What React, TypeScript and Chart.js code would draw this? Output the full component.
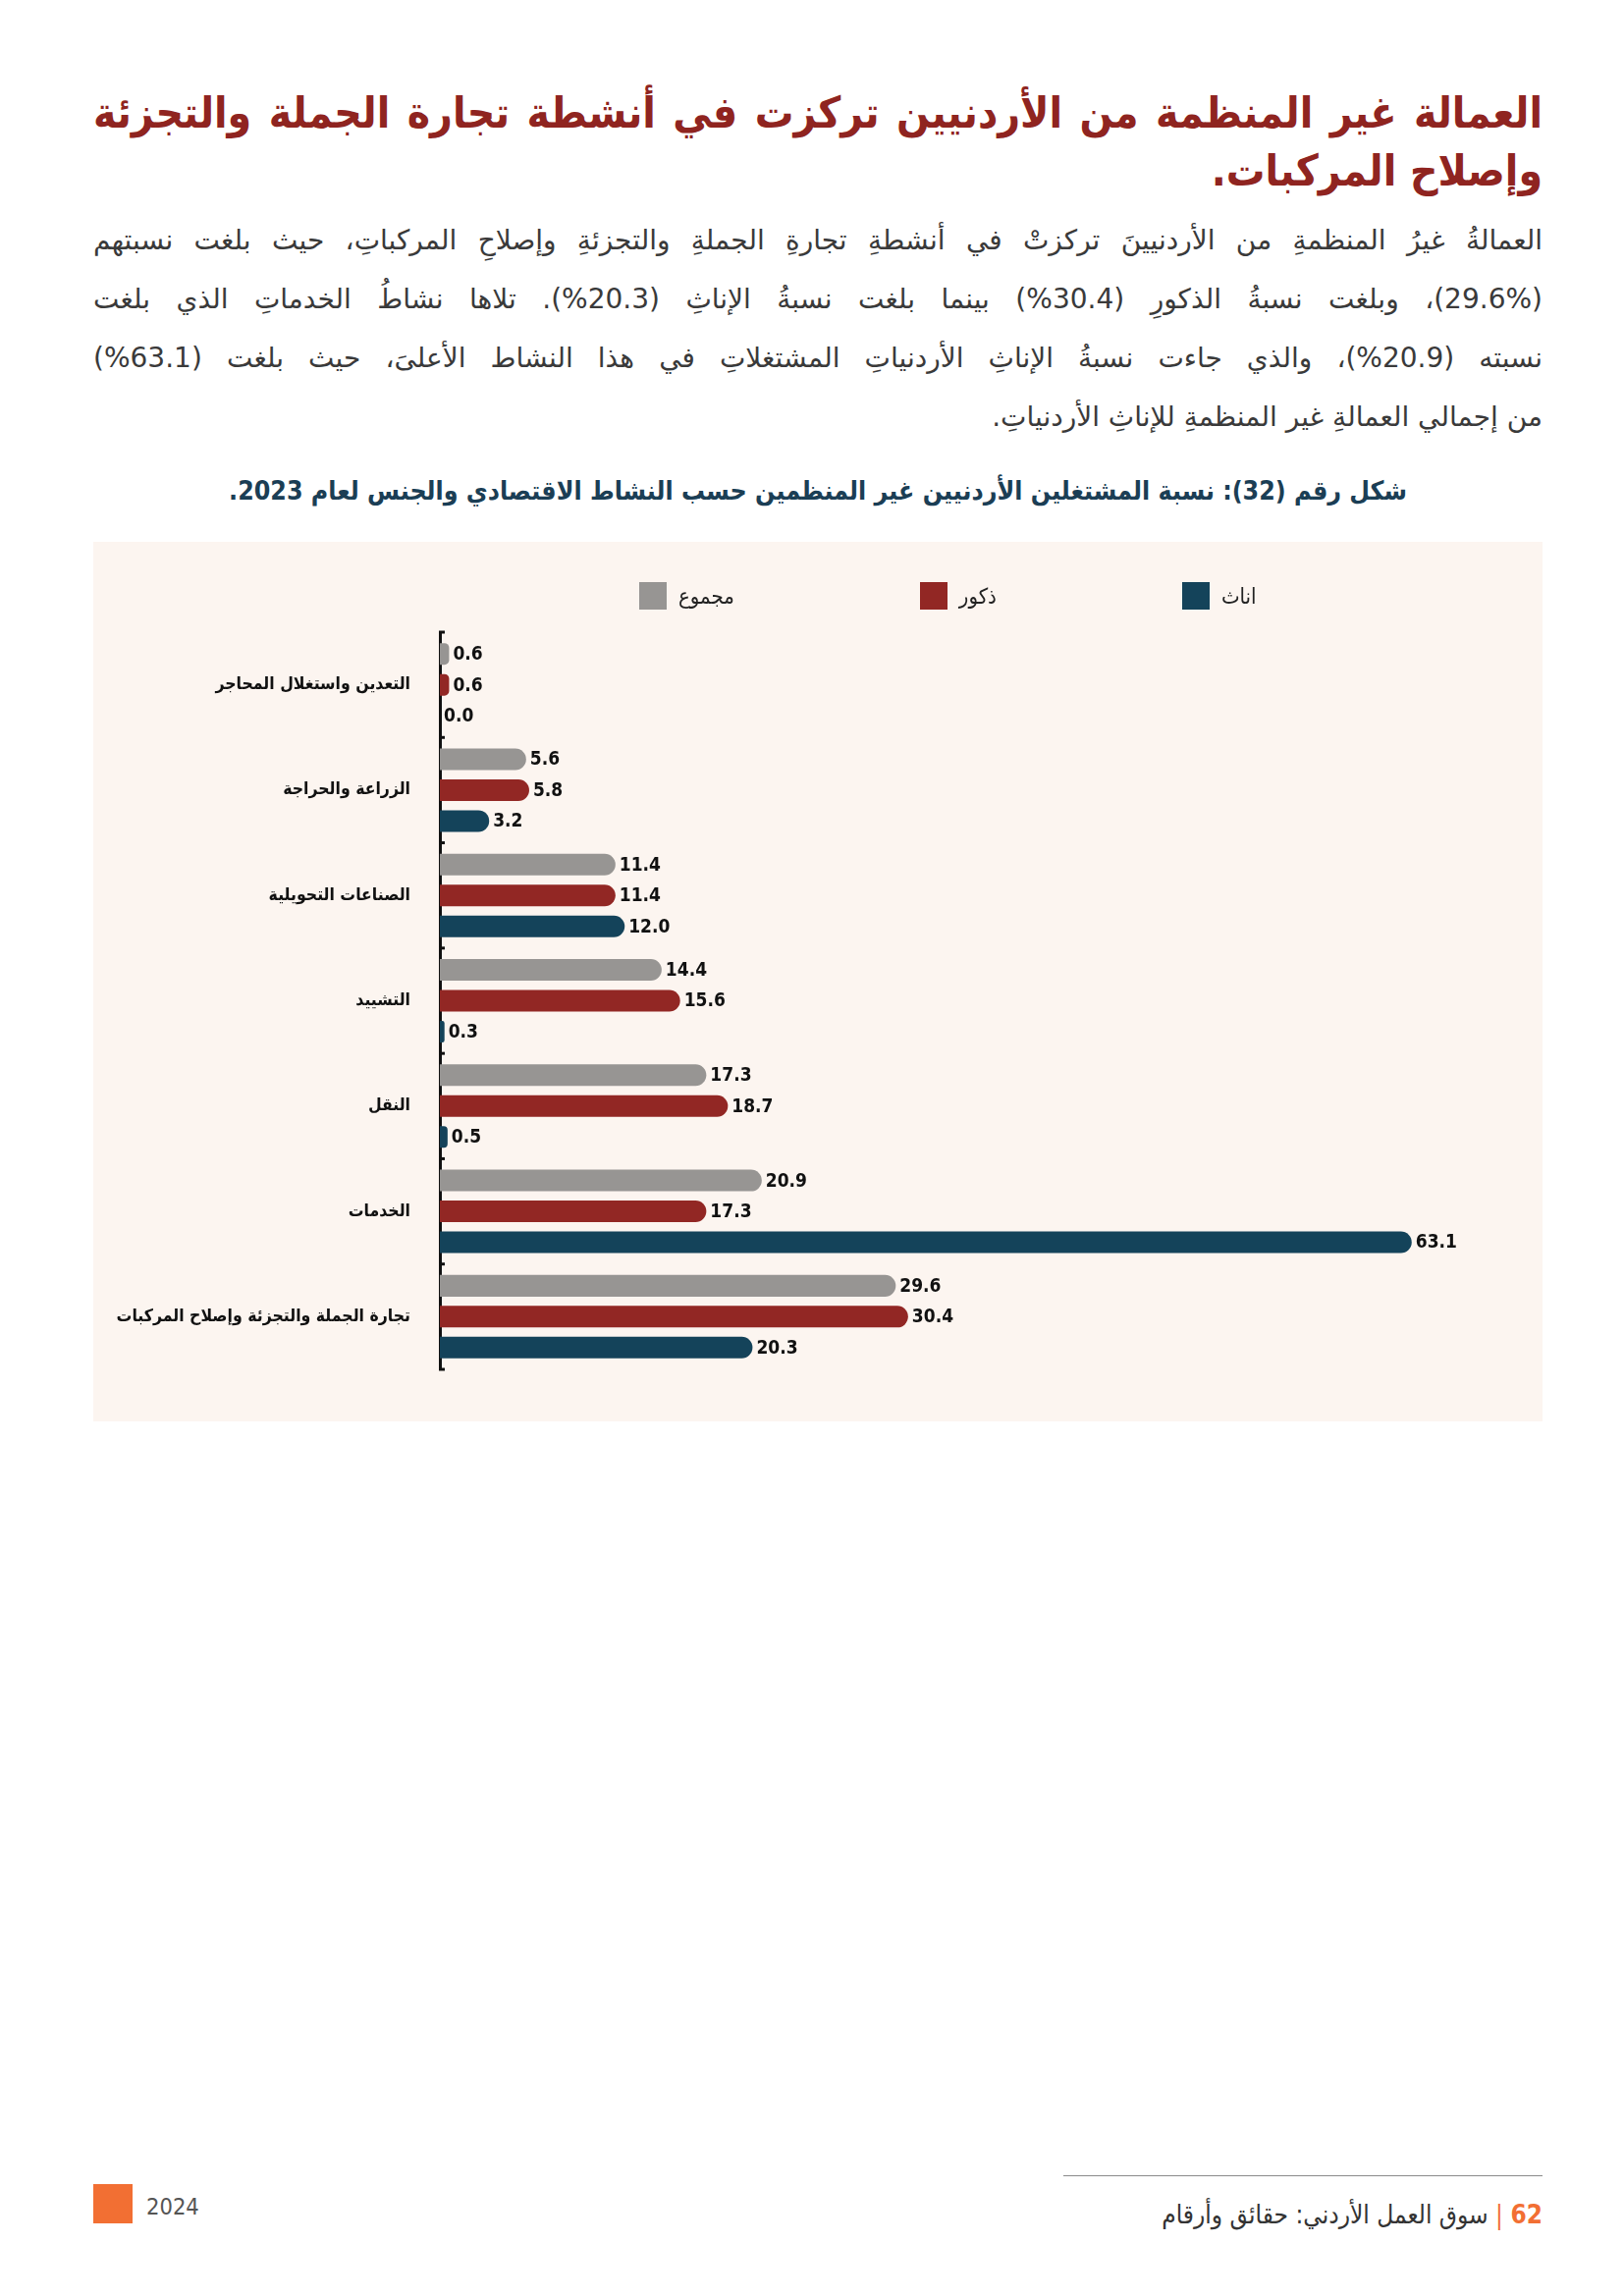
import React, { useEffect, useRef } from "react";
import { Chart, registerables } from "chart.js";

Chart.register(...registerables);

const categories = [
  "التعدين واستغلال المحاجر",
  "الزراعة والحراجة",
  "الصناعات التحويلية",
  "التشييد",
  "النقل",
  "الخدمات",
  "تجارة الجملة والتجزئة وإصلاح المركبات",
];
const seriesNames = ["مجموع", "ذكور", "اناث"];
const totalValues = [0.6, 5.6, 11.4, 14.4, 17.3, 20.9, 29.6];
const maleValues = [0.6, 5.8, 11.4, 15.6, 18.7, 17.3, 30.4];
const femaleValues = [0.0, 3.2, 12.0, 0.3, 0.5, 63.1, 20.3];
const seriesColors = ["#979593", "#922724", "#14435a"];

const titleLines = [
  "العمالة غير المنظمة من الأردنيين تركزت في أنشطة تجارة الجملة والتجزئة",
  "وإصلاح المركبات.",
];
const paragraphLines = [
  "العمالةُ غيرُ المنظمةِ من الأردنيينَ تركزتْ في أنشطةِ تجارةِ الجملةِ والتجزئةِ وإصلاحِ المركباتِ، حيث بلغت نسبتهم",
  "(29.6%)، وبلغت نسبةُ الذكورِ (30.4%) بينما بلغت نسبةُ الإناثِ (20.3%). تلاها نشاطُ الخدماتِ الذي بلغت",
  "نسبته (20.9%)، والذي جاءت نسبةُ الإناثِ الأردنياتِ المشتغلاتِ في هذا النشاط الأعلىَ، حيث بلغت (63.1%)",
  "من إجمالي العمالةِ غير المنظمةِ للإناثِ الأردنياتِ.",
];
const captionText = "شكل رقم (32): نسبة المشتغلين الأردنيين غير المنظمين حسب النشاط الاقتصادي والجنس لعام 2023.";
const footerYear = "2024";
const footerPage = "62";
const footerTitle = "سوق العمل الأردني: حقائق وأرقام";

const FONT = "'DejaVu Sans Condensed', 'DejaVu Sans', sans-serif";
const FONT_WIDE = "'DejaVu Sans', sans-serif";

const valueLabelPlugin = {
  id: "valueLabels",
  afterDatasetsDraw(chart: any) {
    const ctx = chart.ctx;
    ctx.save();
    ctx.font = `bold 19px ${FONT}`;
    ctx.fillStyle = "#111";
    ctx.textAlign = "left";
    ctx.textBaseline = "middle";
    chart.data.datasets.forEach((ds: any, di: number) => {
      const meta = chart.getDatasetMeta(di);
      meta.data.forEach((el: any, i: number) => {
        const v = ds.data[i];
        ctx.fillText(Number(v).toFixed(1), el.x + 4, el.y + 1);
      });
    });
    ctx.restore();
  },
};

const axisTickPlugin = {
  id: "axisTicks",
  afterDraw(chart: any) {
    const y = chart.scales.y;
    const ctx = chart.ctx;
    const n = chart.data.labels.length;
    ctx.save();
    ctx.strokeStyle = "#111";
    ctx.lineWidth = 3;
    for (let i = 0; i <= n; i++) {
      const py = y.getPixelForValue(i - 0.5);
      ctx.beginPath();
      ctx.moveTo(chart.chartArea.left - 1, py);
      ctx.lineTo(chart.chartArea.left + 5, py);
      ctx.stroke();
    }
    ctx.restore();
  },
};

function BarChart() {
  const ref = useRef<HTMLCanvasElement>(null);
  useEffect(() => {
    if (!ref.current) return;
    const chart = new Chart(ref.current, {
      type: "bar",
      data: {
        labels: categories,
        datasets: [totalValues, maleValues, femaleValues].map((vals, i) => ({
          label: seriesNames[i],
          data: vals,
          backgroundColor: seriesColors[i],
          borderRadius: 11,
          borderSkipped: "start",
          categoryPercentage: 0.88,
          barPercentage: 0.7,
        })),
      },
      options: {
        indexAxis: "y",
        responsive: false,
        animation: false,
        devicePixelRatio: 1,
        layout: { padding: { top: 92, right: 25, bottom: 53, left: 0 } },
        plugins: { legend: { display: false }, tooltip: { enabled: false } },
        scales: {
          x: { display: false, min: 0, max: 70 },
          y: {
            grid: { display: false },
            border: { display: true, color: "#111", width: 3 },
            ticks: {
              color: "#111",
              padding: 22,
              font: { family: FONT, weight: "bold", size: 17.5 },
            },
            afterFit(scale: any) {
              scale.width = 353;
            },
          },
        },
      } as any,
      plugins: [valueLabelPlugin, axisTickPlugin],
    });
    return () => chart.destroy();
  }, []);
  return <canvas ref={ref} width={1476} height={896} style={{ display: "block" }} />;
}

export default function App() {
  return (
    <div
      style={{
        position: "absolute",
        left: 0,
        top: 0,
        width: 1654,
        height: 2339,
        background: "#fff",
        fontFamily: FONT,
        overflow: "hidden",
      }}
    >
      <div
        dir="rtl"
        style={{
          position: "absolute",
          left: 95,
          top: 85,
          width: 1476,
          fontSize: 44,
          lineHeight: "59px",
          fontWeight: "bold",
          color: "#8f2420",
          textAlign: "right",
          whiteSpace: "nowrap",
        }}
      >
        {titleLines.map((l, i) => (
          <div key={i} style={{ textAlignLast: i === 0 ? "justify" : "right" }}>{l}</div>
        ))}
      </div>
      <div
        dir="rtl"
        style={{
          position: "absolute",
          left: 95,
          top: 215,
          width: 1476,
          fontSize: 28,
          lineHeight: "60px",
          color: "#3a3a3a",
          fontFamily: FONT_WIDE,
        }}
      >
        {paragraphLines.map((l, i) => (
          <div
            key={i}
            style={{
              textAlign: i < paragraphLines.length - 1 ? "justify" : "right",
              textAlignLast: i < paragraphLines.length - 1 ? "justify" : "right",
              whiteSpace: "nowrap",
            }}
          >
            {l}
          </div>
        ))}
      </div>
      <div
        dir="rtl"
        style={{
          position: "absolute",
          left: 95,
          top: 480,
          width: 1476,
          fontSize: 26.5,
          lineHeight: "40px",
          fontWeight: "bold",
          color: "#1b3e55",
          textAlign: "center",
        }}
      >
        {captionText}
      </div>
      <div
        style={{
          position: "absolute",
          left: 95,
          top: 552,
          width: 1476,
          height: 896,
          background: "#fcf5f0",
        }}
      >
        <BarChart />
        <div
          style={{
            position: "absolute",
            left: 556,
            top: 41,
            height: 28,
            display: "flex",
            alignItems: "center",
            gap: 189,
          }}
        >
          {seriesNames.map((n, i) => (
            <div key={i} style={{ display: "flex", alignItems: "center" }}>
              <div style={{ width: 28, height: 28, background: seriesColors[i], marginRight: 12 }} />
              <span style={{ fontSize: 22, color: "#222", whiteSpace: "nowrap" }}>{n}</span>
            </div>
          ))}
        </div>
      </div>
      <div style={{ position: "absolute", left: 95, top: 2225, width: 40, height: 40, background: "#f26f33" }} />
      <div
        style={{
          position: "absolute",
          left: 149,
          top: 2232,
          fontSize: 23.5,
          lineHeight: "32px",
          color: "#555",
        }}
      >
        {footerYear}
      </div>
      <div style={{ position: "absolute", left: 1083, top: 2216, width: 488, height: 1, background: "#8a8a8a" }} />
      <div
        dir="rtl"
        style={{
          position: "absolute",
          right: 83,
          top: 2237,
          fontSize: 26,
          lineHeight: "38px",
          color: "#333",
          whiteSpace: "nowrap",
        }}
      >
        <span style={{ color: "#f26f33", fontWeight: "bold" }}>{footerPage}</span>
        <span style={{ color: "#f26f33" }}> | </span>
        {footerTitle}
      </div>
    </div>
  );
}
